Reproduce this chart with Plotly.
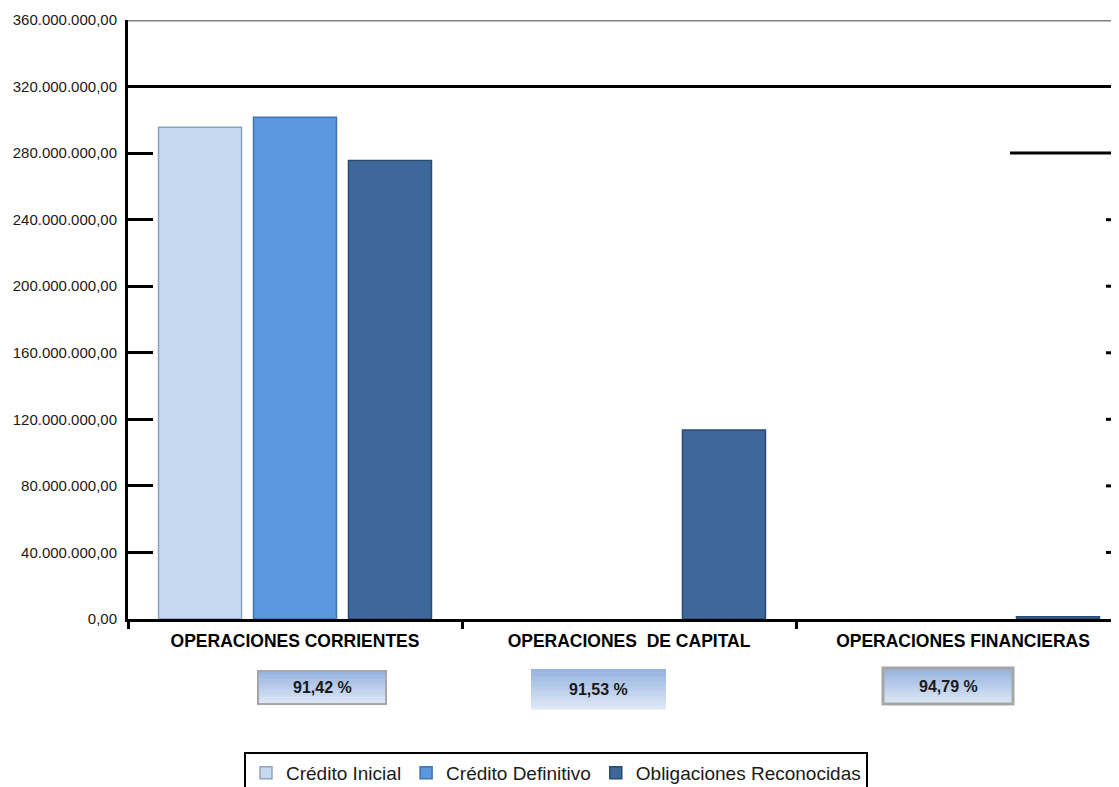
import plotly.graph_objects as go

# ---- data ----
categories = ["OPERACIONES CORRIENTES", "OPERACIONES  DE CAPITAL", "OPERACIONES FINANCIERAS"]
credito_inicial = [295500000, None, None]
credito_definitivo = [301500000, None, None]
obligaciones_reconocidas = [275600000, 113600000, 1300000]
porcentajes = ["91,42 %", "91,53 %", "94,79 %"]
y_ticks = [0, 40e6, 80e6, 120e6, 160e6, 200e6, 240e6, 280e6, 320e6, 360e6]

OFF = 8  # page body margin
W, H = 1119 - OFF, 787 - OFF
L, T = 128 - OFF, 20 - OFF
B = H - (619 - OFF)
PW, PH = W - L, H - T - B
FONT = "Liberation Sans, Arial, sans-serif"


def px_x(p):  # page pixel -> paper
    return (p - OFF - L) / PW


def px_y(p):
    return (H - B - (p - OFF)) / PH


fig = go.Figure()
series = [
    ("Crédito Inicial", credito_inicial, "#C6D9F1", "#8EA3BD"),
    ("Crédito Definitivo", credito_definitivo, "#5B97DE", "#3F74B5"),
    ("Obligaciones Reconocidas", obligaciones_reconocidas, "#3D6899", "#2A4B73"),
]
for name, vals, col, lc in series:
    fig.add_trace(go.Bar(x=categories, y=vals, name=name,
                         marker=dict(color=col, line=dict(color=lc, width=1.5))))

shapes = []
shapes.append(dict(type="line", xref="paper", yref="y", x0=0, x1=1, y0=y_ticks[9], y1=y_ticks[9],
                   line=dict(color="#7F7F7F", width=3), layer="below"))
shapes.append(dict(type="line", xref="paper", yref="y", x0=0, x1=1, y0=y_ticks[8], y1=y_ticks[8],
                   line=dict(color="black", width=3), layer="below"))
shapes.append(dict(type="line", xref="paper", yref="y", x0=px_x(1010), x1=1, y0=y_ticks[7], y1=y_ticks[7],
                   line=dict(color="black", width=3), layer="below"))
for v in y_ticks[1:7]:
    shapes.append(dict(type="line", xref="paper", yref="y", x0=px_x(1106), x1=1, y0=v, y1=v,
                       line=dict(color="black", width=3), layer="below"))

# percentage boxes (gradient)
boxes = [(258, 386, 671, 704, 2), (531, 666, 669, 709, 0), (883, 1013, 668, 704, 3)]
top_c = (149, 179, 224)
bot_c = (222, 232, 246)
N = 24
for (x0, x1, y0, y1, bw) in boxes:
    h = (y1 - y0) / N
    for i in range(N):
        t = i / (N - 1)
        c = tuple(int(top_c[k] + (bot_c[k] - top_c[k]) * t) for k in range(3))
        shapes.append(dict(type="rect", xref="paper", yref="paper",
                           x0=px_x(x0), x1=px_x(x1), y0=px_y(y0 + i * h), y1=px_y(y0 + (i + 1) * h + 0.5),
                           fillcolor="rgb(%d,%d,%d)" % c, line=dict(width=0)))
    if bw:
        shapes.append(dict(type="rect", xref="paper", yref="paper",
                           x0=px_x(x0), x1=px_x(x1), y0=px_y(y0), y1=px_y(y1),
                           line=dict(color="#A6A6A6", width=bw)))

annotations = []
for (x0, x1, y0, y1, bw), txt in zip(boxes, porcentajes):
    annotations.append(dict(xref="paper", yref="paper", x=px_x((x0 + x1) / 2), y=px_y((y0 + y1) / 2),
                            xanchor="center", yanchor="middle",
                            text="<b>%s</b>" % txt, showarrow=False,
                            font=dict(size=16, color="#1A1A1A", family=FONT)))

fig.update_layout(
    width=W, height=H,
    margin=dict(l=L, r=0, t=T, b=B, autoexpand=False),
    paper_bgcolor="white", plot_bgcolor="white",
    separators=",.",
    barmode="group", bargap=0.147, bargroupgap=0.126,
    font=dict(family=FONT, size=13, color="#1A1A1A"),
    shapes=shapes, annotations=annotations,
    legend=dict(orientation="h", x=px_x(244), y=px_y(752), xanchor="left", yanchor="top",
                bordercolor="black", borderwidth=2, font=dict(size=19, color="#1A1A1A"),
                itemwidth=30, traceorder="normal"),
    xaxis=dict(range=[-0.5, 2.467], showline=True, linecolor="black", linewidth=3,
               ticks="outside", tickson="boundaries", ticklen=7, tickwidth=3, tickcolor="black",
               showgrid=False, automargin=False, ticklabelstandoff=4,
               tickfont=dict(size=17.5, color="black", family=FONT),
               tickprefix="<b>", ticksuffix="</b>"),
    yaxis=dict(range=[0, 360e6], tickvals=y_ticks, tickformat=",.2f", showgrid=False, zeroline=False,
               showline=True, linecolor="black", linewidth=3, ticks="inside", ticklen=25,
               tickwidth=3, tickcolor="black", ticklabelstandoff=5, automargin=False,
               tickfont=dict(size=15, color="#1A1A1A", family=FONT)),
)

fig.write_html("out.html")
